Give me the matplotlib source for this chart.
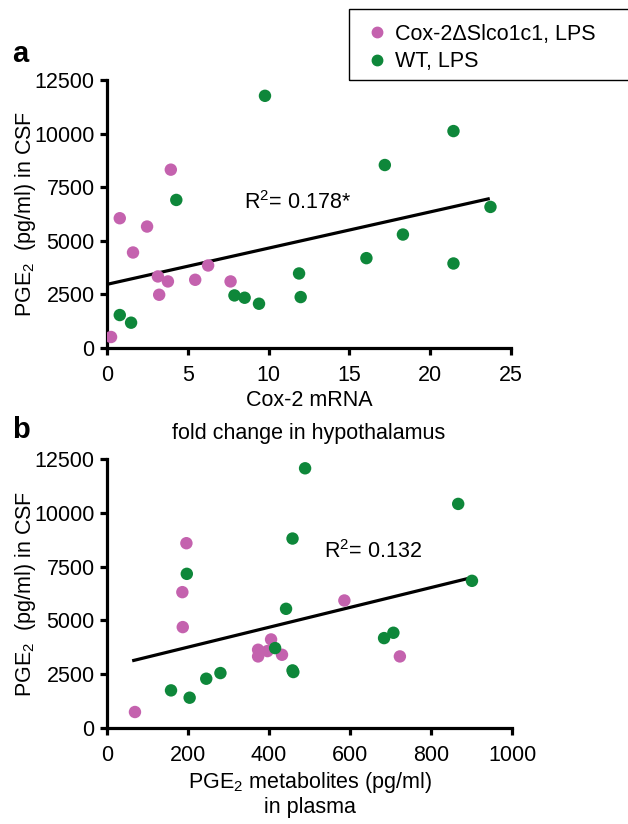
import matplotlib
matplotlib.use('Agg')
import matplotlib.pyplot as plt
from matplotlib.patches import Rectangle

plt.rcParams['font.family'] = ['Liberation Sans', 'DejaVu Sans']
plt.rcParams['mathtext.fontset'] = 'custom'
plt.rcParams['mathtext.rm'] = 'Liberation Sans'
plt.rcParams['mathtext.it'] = 'Liberation Sans:italic'

# panel a: Cox-2 mRNA fold change vs PGE2 in CSF
a_ko_x = [0.25, 0.79, 1.61, 2.48, 3.15, 3.23, 3.77, 3.95, 5.46, 6.26, 7.65]
a_ko_y = [512, 6056, 4457, 5668, 3339, 2484, 3106, 8323, 3183, 3851, 3106]
a_wt_x = [0.79, 1.49, 4.29, 9.78, 7.89, 8.52, 9.41, 11.89, 11.99, 16.06,
          17.20, 18.32, 21.45, 21.45, 23.74]
a_wt_y = [1537, 1180, 6910, 11770, 2453, 2345, 2065, 3478, 2376, 4193,
          8540, 5295, 10124, 3944, 6584]
a_fit = (169.0, 2970.0)      # slope, intercept
a_fit_x = [0.05, 23.6]

# panel b: PGE2 metabolites in plasma vs PGE2 in CSF
b_ko_x = [69, 196, 186, 187, 373, 373, 396, 405, 432, 586, 723]
b_ko_y = [743, 8586, 6312, 4688, 3636, 3326, 3574, 4115, 3403, 5925, 3326]
b_wt_x = [158, 204, 245, 280, 197, 415, 442, 458, 458, 460, 489, 684, 707,
          867, 901]
b_wt_y = [1748, 1408, 2290, 2553, 7163, 3713, 5538, 8803, 2676, 2600, 12067,
          4177, 4425, 10412, 6838]
b_fit = (4.614, 2835.0)
b_fit_x = [66, 901]

pink = '#C462AE'
green = '#0E873A'

fig = plt.figure(figsize=(6.28, 8.24), dpi=100)

def panel(rect, kx, ky, wx, wy, fit, fx, xmax, xstep, r2, r2pos):
    ax = fig.add_axes(rect)
    ax.scatter(kx, ky, s=80, color=pink, edgecolors='none', zorder=3)
    ax.scatter(wx, wy, s=80, color=green, edgecolors='none', zorder=3)
    ax.plot(fx, [fit[0] * v + fit[1] for v in fx], color='black', lw=2.3, zorder=2)
    ax.set_xlim(0, xmax)
    ax.set_ylim(0, 12500)
    ax.set_xticks(range(0, xmax + 1, xstep))
    ax.set_yticks(range(0, 12501, 2500))
    for s in ['top', 'right']:
        ax.spines[s].set_visible(False)
    for s in ['left', 'bottom']:
        ax.spines[s].set_linewidth(2.3)
    ax.tick_params(direction='out', length=5, width=2.3, labelsize=15.5, pad=4)
    ax.tick_params(axis='x', pad=7)
    ax.set_ylabel('PGE$_2$  (pg/ml) in CSF', fontsize=15.5, labelpad=-3)
    ax.text(r2pos[0], r2pos[1], r2, fontsize=15.5, va='center',
            transform=ax.transData)
    ax.set_facecolor('none')
    return ax

ax1 = panel([0.1704, 0.5777, 0.643, 0.325], a_ko_x, a_ko_y, a_wt_x, a_wt_y,
            a_fit, a_fit_x, 25, 5, 'R$^2$= 0.178*', (8.5, 6770))
ax1.set_xlabel('Cox-2 mRNA\nfold change in hypothalamus', fontsize=15.5,
               labelpad=3, linespacing=1.75)

ax2 = panel([0.1704, 0.1165, 0.645, 0.3265], b_ko_x, b_ko_y, b_wt_x, b_wt_y,
            b_fit, b_fit_x, 1000, 200, 'R$^2$= 0.132', (535, 8200))
ax2.set_xlabel('PGE$_2$ metabolites (pg/ml)\nin plasma', fontsize=15.5,
               labelpad=3, linespacing=1.15)

fig.text(12 / 628, 1 - 62 / 824, 'a', fontsize=21, fontweight='bold')
fig.text(12 / 628, 1 - 438 / 824, 'b', fontsize=21, fontweight='bold')

# legend box, right edge runs off the figure
fig.patches.append(Rectangle((349 / 628, 1 - 80 / 824), 300 / 628, 71 / 824,
                             transform=fig.transFigure, fill=False,
                             edgecolor='black', lw=1.0))
h1 = plt.Line2D([], [], marker='o', ls='none', color=pink, markersize=7.5)
h2 = plt.Line2D([], [], marker='o', ls='none', color=green, markersize=7.5)
fig.legend([h1, h2], ['Cox-2\u0394Slco1c1, LPS', 'WT, LPS'],
           loc='upper left', bbox_to_anchor=(366 / 628, 1 - 24 / 824),
           frameon=False, fontsize=15.5, handletextpad=0.35, labelspacing=0.3,
           borderaxespad=0, borderpad=0, handlelength=1.0)

fig.savefig('out.png', dpi=100)
